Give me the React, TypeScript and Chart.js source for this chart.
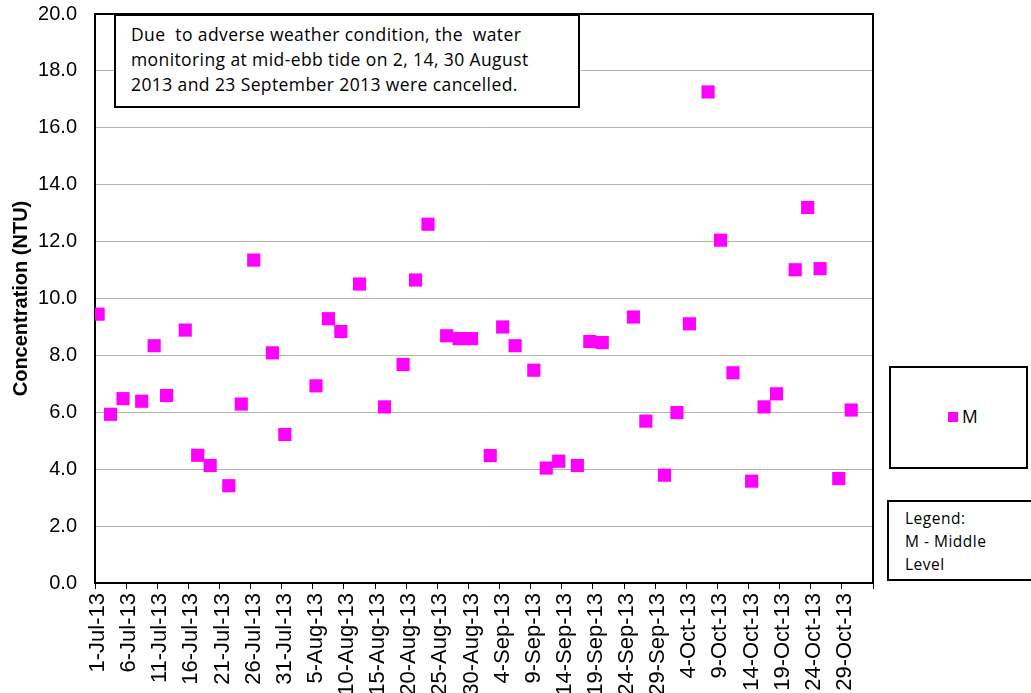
import React, { useEffect, useRef } from 'react';
import { Chart, registerables } from 'chart.js';

Chart.register(...registerables);

// ---- Data ----
const sampleDates: string[] = [
  '2013-07-01', '2013-07-03', '2013-07-05', '2013-07-08', '2013-07-10', '2013-07-12',
  '2013-07-15', '2013-07-17', '2013-07-19', '2013-07-22', '2013-07-24', '2013-07-26',
  '2013-07-29', '2013-07-31', '2013-08-05', '2013-08-07', '2013-08-09', '2013-08-12',
  '2013-08-16', '2013-08-19', '2013-08-21', '2013-08-23', '2013-08-26', '2013-08-28',
  '2013-08-30', '2013-09-02', '2013-09-04', '2013-09-06', '2013-09-09', '2013-09-11',
  '2013-09-13', '2013-09-16', '2013-09-18', '2013-09-20', '2013-09-25', '2013-09-27',
  '2013-09-30', '2013-10-02', '2013-10-04', '2013-10-07', '2013-10-09', '2013-10-11',
  '2013-10-14', '2013-10-16', '2013-10-18', '2013-10-21', '2013-10-23', '2013-10-25',
  '2013-10-28', '2013-10-30',
];

const middleLevel: number[] = [
  9.45, 5.93, 6.48, 6.39, 8.34, 6.59,
  8.89, 4.49, 4.13, 3.42, 6.29, 11.35,
  8.09, 5.22, 6.93, 9.29, 8.84, 10.51,
  6.19, 7.68, 10.65, 12.61, 8.69, 8.59,
  8.59, 4.48, 9.0, 8.34, 7.48, 4.04,
  4.28, 4.13, 8.49, 8.45, 9.35, 5.69,
  3.79, 5.99, 9.11, 17.26, 12.05, 7.39,
  3.58, 6.19, 6.65, 11.01, 13.2, 11.05,
  3.67, 6.08,
];

const axisStartDate = '2013-07-01';
const axisEndDate = '2013-11-03';
const xTickStepDays = 5;
const yMin = 0;
const yMax = 20;
const yStep = 2;
const monthNames = ['Jan', 'Feb', 'Mar', 'Apr', 'May', 'Jun', 'Jul', 'Aug', 'Sep', 'Oct', 'Nov', 'Dec'];

const seriesLabel = 'M';
const yTitle = 'Concentration (NTU)';
const noteLines = [
  'Due  to adverse weather condition, the  water',
  'monitoring at mid-ebb tide on 2, 14, 30 August',
  '2013 and 23 September 2013 were cancelled.',
];
const legendNoteLines = ['Legend:', 'M - Middle', 'Level'];

const DAY = 86400000;
function toUTC(iso: string): number {
  const [y, m, d] = iso.split('-').map(Number);
  return Date.UTC(y, m - 1, d);
}
const startMs = toUTC(axisStartDate);
const endDay = Math.round((toUTC(axisEndDate) - startMs) / DAY);
function dayIndex(iso: string): number {
  return Math.round((toUTC(iso) - startMs) / DAY);
}
function formatDay(day: number): string {
  const dt = new Date(startMs + day * DAY);
  return `${dt.getUTCDate()}-${monthNames[dt.getUTCMonth()]}-${String(dt.getUTCFullYear()).slice(2)}`;
}

const W = 1031;
const H = 693;

const frameBorder = {
  id: 'frameBorder',
  afterDatasetsDraw(chart: any) {
    const { ctx, chartArea } = chart;
    ctx.save();
    ctx.strokeStyle = '#000';
    ctx.lineWidth = 2;
    ctx.beginPath();
    ctx.moveTo(chartArea.left, chartArea.top);
    ctx.lineTo(chartArea.right, chartArea.top);
    ctx.lineTo(chartArea.right, chartArea.bottom);
    ctx.stroke();
    ctx.restore();
  },
};

export default function App() {
  const canvasRef = useRef<HTMLCanvasElement | null>(null);

  useEffect(() => {
    const canvas = canvasRef.current;
    if (!canvas) return;
    const points = sampleDates.map((d, i) => ({ x: dayIndex(d), y: middleLevel[i] }));

    const chart = new Chart(canvas, {
      type: 'scatter',
      data: {
        datasets: [
          {
            label: seriesLabel,
            data: points,
            pointStyle: 'rect',
            pointRadius: 9.3,
            pointHoverRadius: 9.3,
            backgroundColor: '#ff00ff',
            borderColor: '#ff00ff',
            borderWidth: 0,
            showLine: false,
          },
        ],
      },
      options: {
        responsive: false,
        animation: false,
        events: [],
        layout: { padding: { left: 0, top: 14, right: 158, bottom: 0 } },
        plugins: {
          legend: { display: false },
          tooltip: { enabled: false },
          title: { display: false },
        },
        scales: {
          x: {
            type: 'linear',
            min: -0.5,
            max: endDay - 0.5,
            afterBuildTicks: (scale: any) => {
              const t: any[] = [];
              for (let d = 0; d <= endDay; d += xTickStepDays) t.push({ value: d - 0.5 });
              scale.ticks = t;
            },
            afterFit: (scale: any) => {
              scale.height = H - 583;
              scale.paddingLeft = 0;
              scale.paddingRight = 0;
            },
            ticks: {
              autoSkip: false,
              maxRotation: 90,
              minRotation: 90,
              padding: 4,
              labelOffset: 3,
              color: '#000',
              font: { family: '"Liberation Sans", Arial, sans-serif', size: 22 },
              callback: (value: any) => {
                const day = Math.round(Number(value) + 0.5);
                if (day >= endDay) return '';
                return formatDay(day);
              },
            },
            grid: {
              display: true,
              drawOnChartArea: false,
              drawTicks: true,
              tickLength: 6,
              color: '#000',
              lineWidth: 1,
            },
            border: { display: true, color: '#000', width: 2 },
          },
          y: {
            type: 'linear',
            min: yMin,
            max: yMax,
            afterFit: (scale: any) => {
              scale.width = 95;
              scale.paddingTop = 0;
              scale.paddingBottom = 0;
            },
            ticks: {
              stepSize: yStep,
              padding: 18,
              color: '#000',
              font: { family: '"Liberation Sans", Arial, sans-serif', size: 20 },
              callback: (value: any) => Number(value).toFixed(1),
            },
            grid: {
              display: true,
              drawTicks: false,
              color: '#b4b4b4',
              lineWidth: 1,
            },
            border: { display: true, color: '#000', width: 2 },
            title: {
              display: true,
              text: yTitle,
              color: '#000',
              font: { family: '"Liberation Sans", Arial, sans-serif', size: 20, weight: 'bold' },
              padding: { top: 9, bottom: 0 },
            },
          },
        },
      },
      plugins: [frameBorder],
    } as any);

    return () => chart.destroy();
  }, []);

  const noteFont = '"Open Sans", Lato, sans-serif';

  return (
    <div style={{ position: 'fixed', left: 0, top: 0, width: W, height: H, background: '#fff', overflow: 'hidden' }}>
      <canvas ref={canvasRef} width={W} height={H} style={{ position: 'absolute', left: 0, top: 0, width: W, height: H }} />
      <div
        style={{
          position: 'absolute',
          left: 114,
          top: 14,
          width: 466,
          height: 94,
          boxSizing: 'border-box',
          border: '2px solid #000',
          background: '#fff',
          padding: '6px 0 0 15px',
          fontFamily: noteFont,
          fontSize: 17.5,
          letterSpacing: '0.4px',
          lineHeight: '25px',
          color: '#000',
          whiteSpace: 'pre',
        }}
      >
        {noteLines.map((l, i) => (
          <div key={i}>{l}</div>
        ))}
      </div>
      <div
        style={{
          position: 'absolute',
          left: 889,
          top: 366,
          width: 139,
          height: 103,
          boxSizing: 'border-box',
          border: '2px solid #000',
          background: '#fff',
        }}
      >
        <div style={{ position: 'absolute', left: 57, top: 44, width: 10, height: 10, background: '#ff00ff' }} />
        <div
          style={{
            position: 'absolute',
            left: 71,
            top: 36,
            fontFamily: noteFont,
            fontSize: 17.5,
            lineHeight: '24px',
            color: '#000',
          }}
        >
          {seriesLabel}
        </div>
      </div>
      <div
        style={{
          position: 'absolute',
          left: 887,
          top: 500,
          width: 160,
          height: 81,
          boxSizing: 'border-box',
          border: '2px solid #000',
          background: '#fff',
          padding: '5px 0 0 16px',
          fontFamily: noteFont,
          fontSize: 15.5,
          letterSpacing: '0.5px',
          lineHeight: '23px',
          color: '#000',
          whiteSpace: 'pre',
        }}
      >
        {legendNoteLines.map((l, i) => (
          <div key={i}>{l}</div>
        ))}
      </div>
    </div>
  );
}
